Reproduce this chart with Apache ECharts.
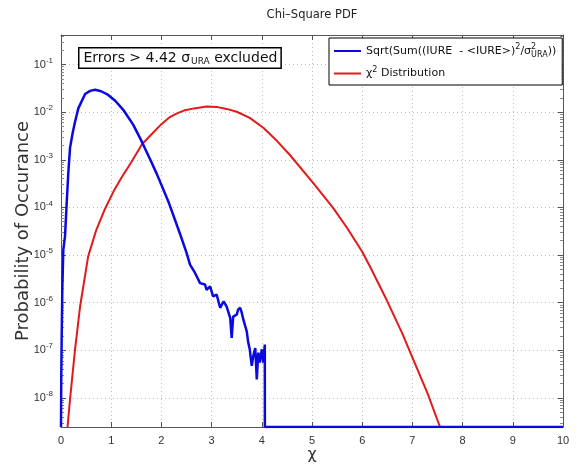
<!DOCTYPE html>
<html><head><meta charset="utf-8">
<script src="https://cdn.jsdelivr.net/npm/echarts@6/dist/echarts.min.js"></script>
<style>html,body{margin:0;padding:0;background:#fff}#c{width:578px;height:464px}</style>
</head><body><div id="c"></div>
<script>
// ---- data ----
const FLOOR = 2.45e-9;   // bottom of the log axis (zero-probability bins sit here)
const Y_MAX = 0.417;     // top of the log axis
const X_MIN = 0, X_MAX = 10;
const xTickLabels = ['0','1','2','3','4','5','6','7','8','9','10'];

const blueName = 'Sqrt(Sum((IURE  - <IURE>)^2/sigma^2_URA))';
const redName = 'chi^2 Distribution';

const blueX = [0.000,0.005,0.013,0.026,0.046,0.080,0.110,0.145,0.180,0.230,0.280,0.345,0.480,0.580,0.680,0.800,0.940,1.080,1.240,1.440,1.610,1.770,1.910,2.140,2.370,2.500,2.570,2.670,2.770,2.870,2.900,2.970,3.030,3.100,3.170,3.240,3.300,3.370,3.400,3.430,3.500,3.530,3.570,3.600,3.630,3.700,3.730,3.760,3.800,3.830,3.870,3.900,3.930,3.960,4.000,4.030,4.060,4.061,10.000];
const blueY = [FLOOR,2.5e-8,1.7e-7,1.86e-6,1.29e-5,2.5e-5,1.05e-4,5.2e-4,1.78e-3,3.55e-3,6.3e-3,1.2e-2,2.4e-2,2.8e-2,2.95e-2,2.75e-2,2.3e-2,1.74e-2,1.12e-2,5.4e-3,2.4e-3,1.05e-3,5.0e-4,1.32e-4,2.8e-5,1.12e-5,6.3e-6,4.2e-6,2.57e-6,2.4e-6,1.86e-6,2.2e-6,1.35e-6,1.48e-6,7.8e-7,1.07e-6,8.3e-7,4.8e-7,1.82e-7,5.1e-7,5.6e-7,7.2e-7,7.8e-7,6.2e-7,4.5e-7,2.5e-7,1.45e-7,1.05e-7,4.7e-8,7.6e-8,1.12e-7,2.45e-8,8.9e-8,5.5e-8,1.05e-7,5.5e-8,1.32e-7,FLOOR,FLOOR];

const redX = [0.13,0.18,0.28,0.38,0.54,0.70,0.88,1.05,1.21,1.40,1.61,1.77,2.00,2.17,2.30,2.47,2.65,2.90,3.10,3.30,3.50,3.76,4.03,4.30,4.56,5.03,5.42,5.70,6.00,6.16,6.49,6.80,7.02,7.30,7.55];
const redY = [FLOOR,9.3e-9,1.05e-7,8.3e-7,9.3e-6,3.3e-5,9.5e-5,2.2e-4,4.3e-4,8.9e-4,2.1e-3,3.16e-3,5.6e-3,7.9e-3,9.3e-3,1.1e-2,1.2e-2,1.32e-2,1.29e-2,1.17e-2,1.02e-2,7.6e-3,4.7e-3,2.5e-3,1.26e-3,3.2e-4,9.8e-5,3.7e-5,1.17e-5,5.6e-6,1.12e-6,2.24e-7,6.3e-8,1.26e-8,FLOOR];

// ---- chart ----
const FONT = '"Liberation Sans", Arial, Helvetica, sans-serif';
const WFONT = '"DejaVu Sans", Verdana, sans-serif';
const AXC = '#555';
const chart = echarts.init(document.getElementById('c'), null, {renderer: 'canvas'});

function logLabel(v) {
  const l = Math.log10(v);
  const e = Math.round(l);
  if (Math.abs(l - e) > 0.01) return '';
  return '{b|10}{s|' + e + '}';
}

const gridLine = {show: true, lineStyle: {color: '#c0c0c0', type: [1, 3], width: 1}};
const legendRich = {
  n: {fontSize: 11, color: '#111', fontFamily: WFONT},
  sup: {fontSize: 8, color: '#111', fontFamily: WFONT, padding: [0, 0, 8, 0]},
  sup0: {fontSize: 8, color: '#111', fontFamily: WFONT, padding: [0, 0, 8, 0], width: 0},
  sub: {fontSize: 8, color: '#111', fontFamily: WFONT, padding: [7, 0, 0, 0]}
};

chart.setOption({
  animation: false,
  backgroundColor: '#fff',
  grid: {left: 61, right: 15, top: 35, bottom: 37, containLabel: false, outerBoundsMode: 'none'},
  xAxis: [{
    type: 'value', min: X_MIN, max: X_MAX, interval: 1, position: 'bottom',
    axisLine: {show: true, onZero: false, lineStyle: {color: AXC, width: 1}},
    axisTick: {show: true, inside: true, length: 5, lineStyle: {color: AXC}},
    axisLabel: {fontSize: 11, color: '#333', fontFamily: FONT, margin: 8,
      formatter: v => xTickLabels[Math.round(v)]},
    splitLine: gridLine,
    name: 'χ', nameLocation: 'middle', nameGap: 20, nameMoveOverlap: false,
    nameTextStyle: {fontSize: 16, color: '#333', fontFamily: WFONT}
  }, {
    type: 'value', min: X_MIN, max: X_MAX, interval: 1, position: 'top',
    axisLine: {show: true, onZero: false, lineStyle: {color: AXC, width: 1}},
    axisTick: {show: true, inside: true, length: 5, lineStyle: {color: AXC}},
    axisLabel: {show: false}, splitLine: {show: false}
  }],
  yAxis: [{
    type: 'log', logBase: 10, min: FLOOR, max: Y_MAX, position: 'left',
    axisLine: {show: true, onZero: false, lineStyle: {color: AXC, width: 1}},
    axisTick: {show: true, inside: true, length: 5, lineStyle: {color: AXC}},
    minorTick: {show: true, splitNumber: 9, length: 3, lineStyle: {color: '#888'}},
    axisLabel: {formatter: logLabel, margin: 8, fontFamily: FONT, color: '#333',
      rich: {b: {fontSize: 11, color: '#333', fontFamily: FONT},
             s: {fontSize: 8, color: '#333', fontFamily: FONT, padding: [0, 0, 8, 0]}}},
    splitLine: gridLine,
    name: 'Probability of Occurance', nameLocation: 'middle', nameGap: 29, nameMoveOverlap: false,
    nameTextStyle: {fontSize: 18, color: '#333', fontFamily: WFONT}
  }, {
    type: 'log', logBase: 10, min: FLOOR, max: Y_MAX, position: 'right',
    axisLine: {show: true, onZero: false, lineStyle: {color: AXC, width: 1}},
    axisTick: {show: true, inside: true, length: 5, lineStyle: {color: AXC}},
    minorTick: {show: true, splitNumber: 9, length: 3, lineStyle: {color: '#888'}},
    axisLabel: {show: false}, splitLine: {show: false}
  }],
  legend: {
    orient: 'vertical', left: 329, top: 38,
    data: [blueName, redName],
    icon: 'rect', itemWidth: 27, itemHeight: 2, itemGap: 7,
    padding: [5, 6, 6, 5],
    borderColor: '#000', borderWidth: 1, backgroundColor: '#fff',
    textStyle: {fontSize: 11, color: '#111', fontFamily: WFONT, rich: legendRich},
    formatter: function (name) {
      if (name === blueName) return '{n|Sqrt(Sum((IURE  - <IURE>)}{sup|2}{n|/σ}{sup0|2}{sub|URA}{n|))}';
      return '{n|χ}{sup|2}{n| Distribution}';
    }
  },
  graphic: [{
    type: 'text', x: 312, y: 15, z: 50,
    style: {text: 'Chi–Square PDF', fontSize: 11.5, fontFamily: WFONT, fill: '#222',
            align: 'center', verticalAlign: 'middle'}
  }, {
    type: 'text', left: 78, top: 47, z: 50,
    style: {
      text: '{n|Errors > 4.42 σ}{sub|URA}{n| excluded}',
      rich: {n: {fontSize: 14, fontFamily: WFONT, fill: '#111'},
             sub: {fontSize: 9, fontFamily: WFONT, fill: '#111', padding: [7, 0, 0, 1]}},
      backgroundColor: '#fff', borderColor: '#000', borderWidth: 1.5,
      padding: [2, 3, 1, 4]
    }
  }],
  series: [{
    name: blueName, type: 'line', xAxisIndex: 0, yAxisIndex: 0,
    data: blueX.map((x, i) => [x, blueY[i]]),
    showSymbol: false, symbol: 'none', clip: true,
    lineStyle: {color: '#0a0ae0', width: 2.5}, itemStyle: {color: '#0a0ae0'}, z: 3
  }, {
    name: redName, type: 'line', xAxisIndex: 0, yAxisIndex: 0,
    data: redX.map((x, i) => [x, redY[i]]),
    showSymbol: false, symbol: 'none', clip: true,
    lineStyle: {color: '#e21a1a', width: 2}, itemStyle: {color: '#e21a1a'}, z: 2
  }]
});
</script>
</body></html>
